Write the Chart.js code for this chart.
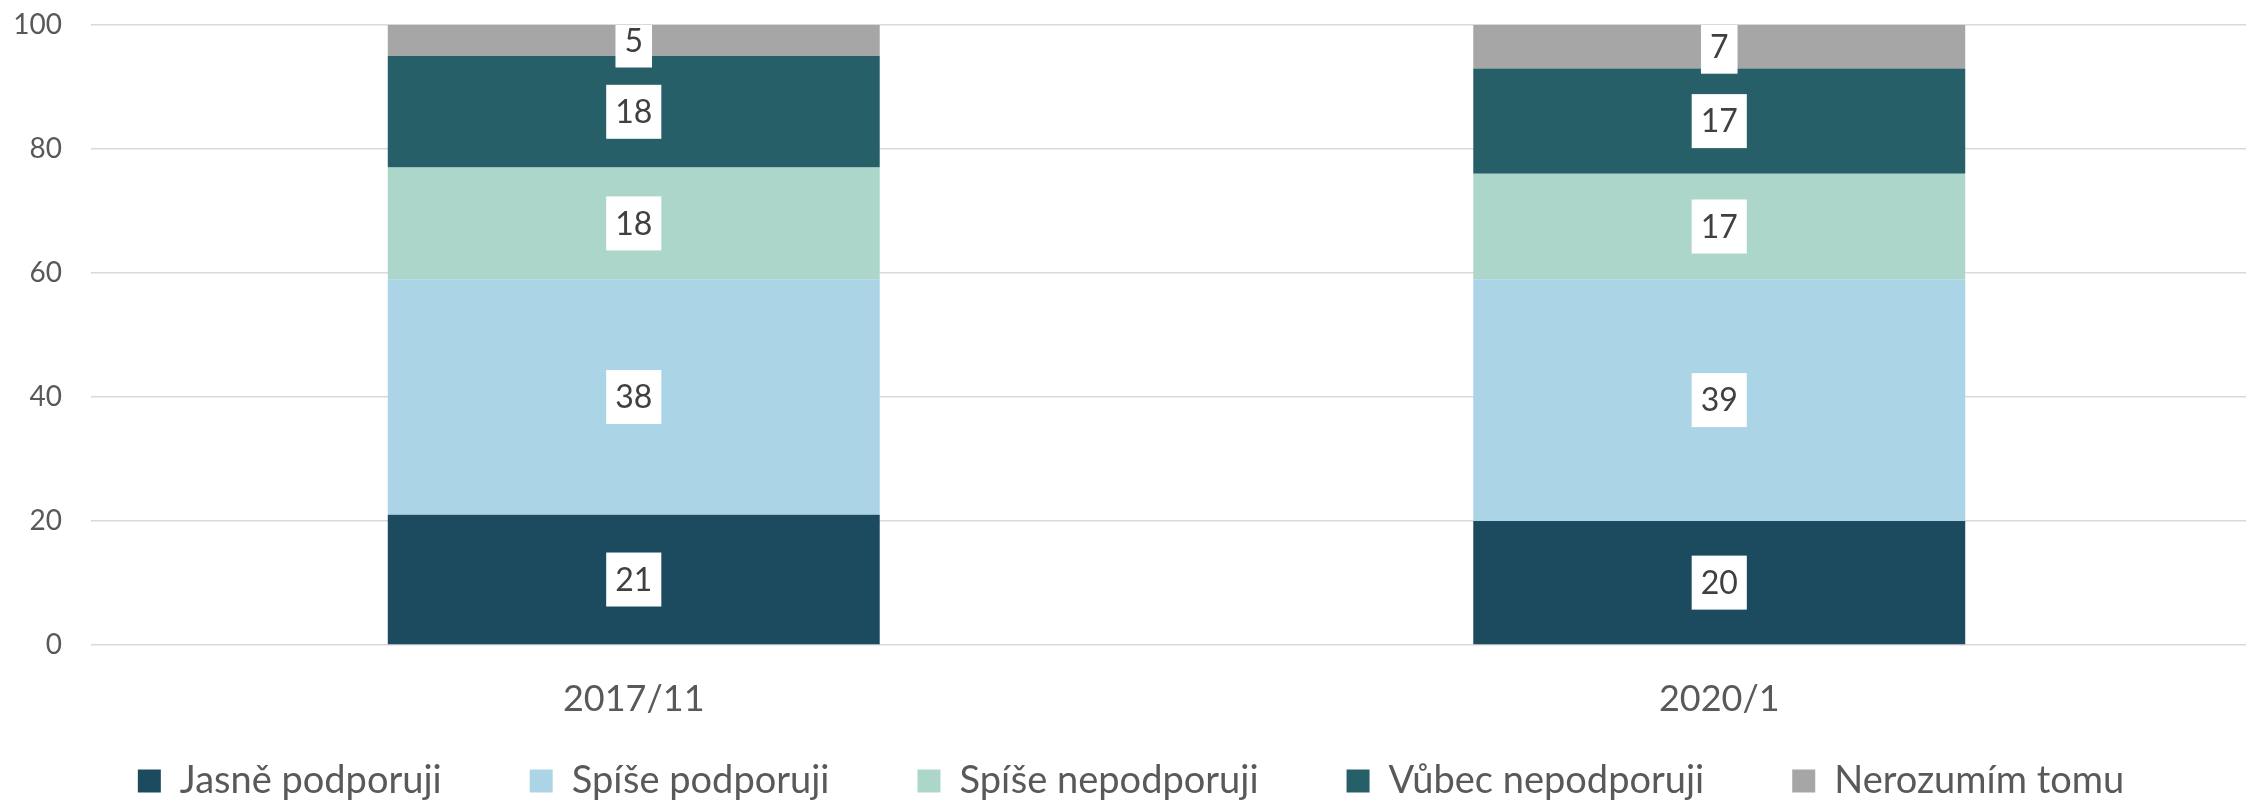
<!DOCTYPE html>
<html>
<head>
<meta charset="utf-8">
<script src="https://cdn.jsdelivr.net/npm/chart.js@4/dist/chart.umd.min.js"></script>
<style>
  html, body { margin: 0; padding: 0; background: #fff; overflow: hidden; }
  #wrap { width: 2262px; height: 801px; position: relative; }
</style>
</head>
<body>
<div id="wrap"><canvas id="chart"></canvas></div>
<script>
const CATEGORIES = ['2017/11', '2020/1'];
const SERIES = ['Jasně podporuji', 'Spíše podporuji', 'Spíše nepodporuji', 'Vůbec nepodporuji', 'Nerozumím tomu'];
const JASNE     = [21, 20];
const SPISE_ANO = [38, 39];
const SPISE_NE  = [18, 17];
const VUBEC_NE  = [18, 17];
const NEROZUMIM = [5, 7];
const Y_TICKS   = [0, 20, 40, 60, 80, 100];

const COLORS = ['#1C4A5E', '#ABD5E6', '#ADD6CA', '#265F68', '#A6A6A6'];
const FONT = 'Lato';
const LEGEND_SIZE = 38;
const LEGEND_GAP = 88;

// white boxes with the value, centred on each segment
const boxLabels = {
  id: 'boxLabels',
  afterDatasetsDraw(chart) {
    const ctx = chart.ctx;
    const area = chart.chartArea;
    ctx.save();
    ctx.beginPath();
    ctx.rect(area.left, area.top, area.right - area.left, area.bottom - area.top);
    ctx.clip();
    ctx.font = '32px ' + FONT;
    ctx.textAlign = 'center';
    ctx.textBaseline = 'middle';
    chart.data.datasets.forEach((ds, i) => {
      chart.getDatasetMeta(i).data.forEach((bar, j) => {
        const txt = String(ds.data[j]);
        const cy = (bar.y + bar.base) / 2;
        const w = ctx.measureText(txt).width + 18;
        const h = 54;
        ctx.fillStyle = '#fff';
        ctx.fillRect(bar.x - w / 2, cy - h / 2, w, h);
        ctx.fillStyle = '#404040';
        ctx.fillText(txt, bar.x, cy + 1);
      });
    });
    ctx.restore();
  }
};

// keep the legend short in the layout, then lift it so the row sits where it should
const legendPlace = {
  id: 'legendPlace',
  beforeInit(chart) {
    const fit = chart.legend.fit;
    chart.legend.fit = function () {
      fit.call(this);
      this.height = 76;
    };
  },
  beforeDraw(chart) {
    chart.legend.top = 781 - LEGEND_GAP - LEGEND_SIZE / 2;
  }
};

const values = [JASNE, SPISE_ANO, SPISE_NE, VUBEC_NE, NEROZUMIM];

new Chart(document.getElementById('chart'), {
  type: 'bar',
  data: {
    labels: CATEGORIES,
    datasets: SERIES.map((name, i) => ({
      label: name,
      data: values[i],
      backgroundColor: COLORS[i],
      borderWidth: 0,
      barPercentage: 1,
      categoryPercentage: 0.4532,
    }))
  },
  options: {
    responsive: true,
    maintainAspectRatio: false,
    animation: false,
    layout: { padding: { top: 25, left: 0, right: 0, bottom: 0 } },
    plugins: {
      legend: {
        position: 'bottom',
        labels: {
          boxWidth: 23,
          boxHeight: 23,
          padding: LEGEND_GAP,
          color: '#595959',
          font: { family: FONT, size: LEGEND_SIZE },
        }
      },
      tooltip: { enabled: false },
    },
    scales: {
      x: {
        stacked: true,
        grid: { display: false },
        border: { display: false },
        ticks: { color: '#595959', padding: 25, font: { family: FONT, size: 36 } },
        afterFit(scale) { scale.height = 80; },
      },
      y: {
        stacked: true,
        min: 0,
        max: 100,
        afterBuildTicks(scale) { scale.ticks = Y_TICKS.map(v => ({ value: v })); },
        grid: { color: '#D9D9D9', lineWidth: 1.5, drawTicks: false },
        border: { display: false },
        ticks: { color: '#595959', padding: 29, font: { family: FONT, size: 28 } },
        afterFit(scale) {
          scale.width = 91;
          scale.paddingTop = 0;
          scale.paddingBottom = 0;
        },
      }
    }
  },
  plugins: [boxLabels, legendPlace]
});
</script>
</body>
</html>
